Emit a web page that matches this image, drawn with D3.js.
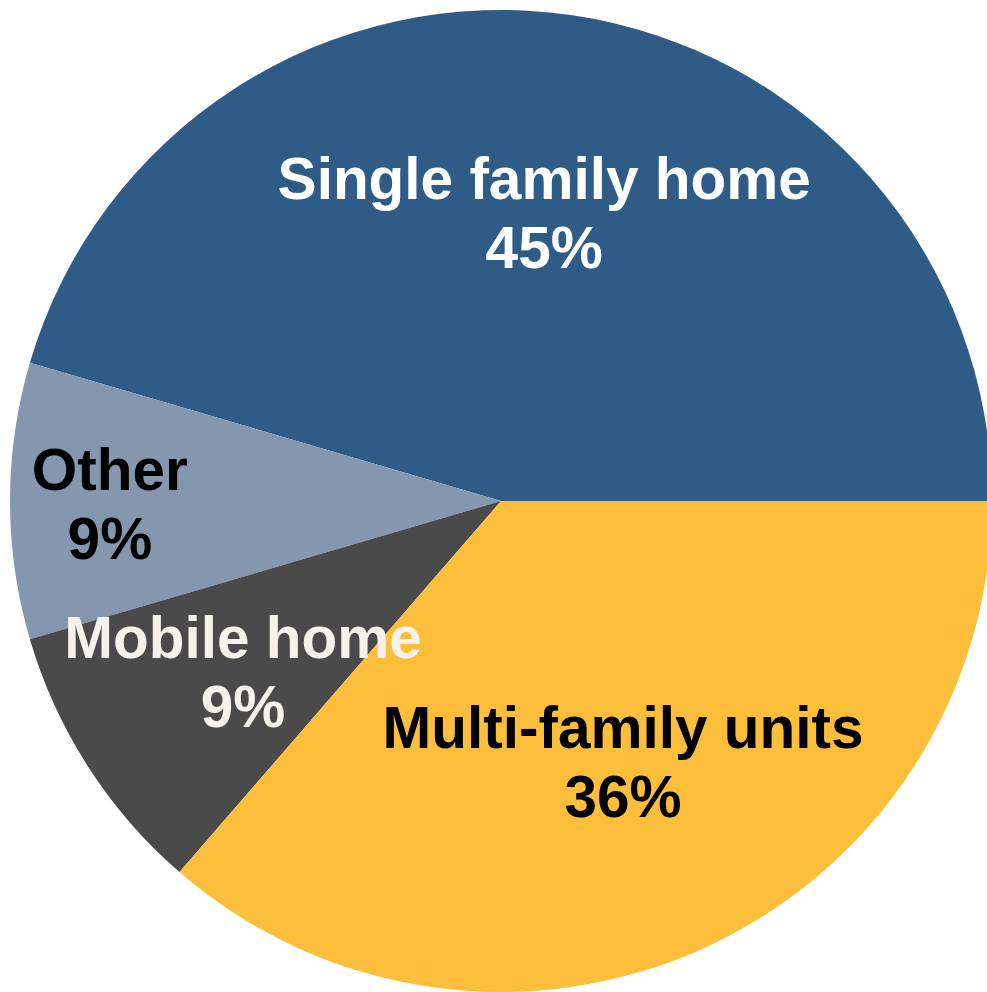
<!DOCTYPE html>
<html><head><meta charset="utf-8">
<script src="https://cdn.jsdelivr.net/npm/d3@7"></script>
<style>html,body{margin:0;padding:0;background:#fff;overflow:hidden}svg{display:block}</style>
</head><body>
<script>
const categories = ["Single family home", "Other", "Mobile home", "Multi-family units"];
const values = [45, 9, 9, 36];
const valueLabels = ["45%", "9%", "9%", "36%"];

const colors = ["#2F5C86", "#8497AF", "#4A4A4A", "#FDBE3C"];
const textColors = ["#FFFFFF", "#000000", "#F5F2EC", "#000000"];
// label placement: radius factor and angle nudge (degrees)
const labelRF = [0.551, 0.798, 0.654, 0.625];
const labelNudge = [1.0, -3.4, -3.8, 1.1];

const W = 987, H = 992;
const cx = 501, cy = 501, R = 491;

const svg = d3.select("body").append("svg").attr("width", W).attr("height", H);
const g = svg.append("g").attr("transform", `translate(${cx},${cy})`);

const data = categories.map((c, i) => ({cat: c, value: values[i], label: valueLabels[i], i}));
const pie = d3.pie().value(d => d.value).sort(null)
  .startAngle(Math.PI / 2).endAngle(Math.PI / 2 - 2 * Math.PI);
const arcs = pie(data);
const arc = d3.arc().innerRadius(0).outerRadius(R);

g.selectAll("path.slice").data(arcs).enter().append("path")
  .attr("class", "slice")
  .attr("d", arc)
  .attr("fill", d => colors[d.data.i]);

const fs = 58.5, lh = 69;
const lbl = g.selectAll("g.lbl").data(arcs).enter().append("g").attr("class", "lbl")
  .attr("transform", d => {
    const a = (d.startAngle + d.endAngle) / 2 + labelNudge[d.data.i] * Math.PI / 180;
    const r = R * labelRF[d.data.i];
    return `translate(${r * Math.sin(a)},${-r * Math.cos(a)})`;
  });
lbl.append("text")
  .attr("text-anchor", "middle")
  .attr("y", -lh / 2)
  .attr("font-family", "'Liberation Sans', Arial, sans-serif")
  .attr("font-weight", "bold")
  .attr("font-size", fs)
  .attr("fill", d => textColors[d.data.i])
  .text(d => d.data.cat);
lbl.append("text")
  .attr("text-anchor", "middle")
  .attr("y", lh / 2)
  .attr("font-family", "'Liberation Sans', Arial, sans-serif")
  .attr("font-weight", "bold")
  .attr("font-size", fs)
  .attr("fill", d => textColors[d.data.i])
  .text(d => d.data.label);
</script>
</body></html>
